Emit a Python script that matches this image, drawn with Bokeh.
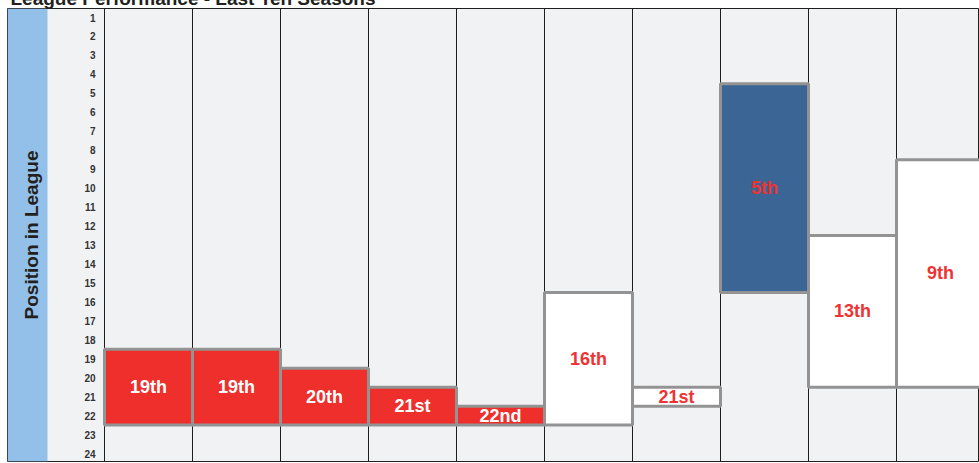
from bokeh.plotting import figure
from bokeh.models import Range1d, FixedTicker, BoxAnnotation, ColumnDataSource
from bokeh.core.properties import value
from bokeh.embed import file_html
from bokeh.resources import INLINE

# ---- data ----
title_text = "League Performance - Last Ten Seasons"
y_label = "Position in League"
seasons = list(range(10))                                  # season index, left to right
positions = [19, 19, 20, 21, 22, 16, 21, 5, 13, 9]          # final league position
bar_from = [22.5, 22.5, 22.5, 22.5, 22.5, 22.5, 21.5, 15.5, 20.5, 20.5]  # other end of each bar
league_ticks = list(range(1, 25))

# ---- styles ----
RED = "#EE2F2B"
BLUE = "#3A6594"
WHITE = "#FFFFFF"
fill_colors = [RED, RED, RED, RED, RED, WHITE, WHITE, BLUE, WHITE, WHITE]
text_colors = [WHITE if c == RED else "#EE3333" for c in fill_colors]


def ordinal(n):
    if 10 <= n % 100 <= 20:
        suf = "th"
    else:
        suf = {1: "st", 2: "nd", 3: "rd"}.get(n % 10, "th")
    return f"{n}{suf}"


labels = [ordinal(v) for v in positions]
tops = [v - 0.5 for v in positions]
mids = [(t + b) / 2 for t, b in zip(tops, bar_from)]

src = ColumnDataSource(dict(
    x=seasons,
    left=[s - 0.5 for s in seasons],
    right=[s + 0.5 for s in seasons],
    top=tops,
    bottom=bar_from,
    mid=mids,
    label=labels,
    fill=fill_colors,
    tcol=text_colors,
))

# ---- layout geometry (pixels) ----
W, H = 972, 484
TOP_BORDER = 30
frame_left_px = 7
data_left_px = 104
unit_px = 88
x_start = -0.5 - (data_left_px - frame_left_px) / unit_px
x_end = x_start + W / unit_px
band_right = x_start + (47 - frame_left_px) / unit_px

p = figure(width=W, height=H, output_backend="svg", toolbar_location=None,
           x_range=Range1d(x_start, x_end), y_range=Range1d(24.42, 0.525),
           min_border_left=0, min_border_right=0, min_border_top=TOP_BORDER,
           min_border_bottom=1)
p.margin = (8 - TOP_BORDER, 0, 0, frame_left_px)

p.title.text = title_text
p.title.text_font = "Liberation Sans"
p.title.text_font_size = "19px"
p.title.text_font_style = "bold"
p.title.text_color = "#231F20"
p.title.align = "left"
p.title.standoff = 0
p.title.offset = 3

p.background_fill_color = "#F1F2F4"
p.border_fill_color = "#FFFFFF"
p.outline_line_color = "#1E1E1E"
p.outline_line_width = 1

# blue side band
p.add_layout(BoxAnnotation(right=band_right, fill_color="#93C0E8", fill_alpha=1,
                           line_color=None, level="underlay"))

# vertical grid lines at season boundaries
p.xgrid.ticker = FixedTicker(ticks=[s - 0.5 for s in seasons] + [seasons[-1] + 0.5])
p.xgrid.grid_line_color = "#1E1E1E"
p.xgrid.grid_line_width = 1
p.ygrid.grid_line_color = None

p.xaxis.visible = False

ya = p.yaxis[0]
ya.fixed_location = -0.5
ya.ticker = FixedTicker(ticks=league_ticks)
ya.axis_line_color = None
ya.major_tick_line_color = None
ya.minor_tick_line_color = None
ya.major_label_standoff = 3
ya.major_label_text_font = "Liberation Sans"
ya.major_label_text_font_size = "10px"
ya.major_label_text_font_style = "bold"
ya.major_label_text_color = "#333333"
ya.axis_label = y_label
ya.axis_label_text_font = "Liberation Sans"
ya.axis_label_text_font_size = "19px"
ya.axis_label_text_font_style = "bold"
ya.axis_label_text_color = "#231F20"
ya.axis_label_standoff = 39

p.quad(left="left", right="right", top="top", bottom="bottom", source=src,
       fill_color="fill", line_color="#939393", line_width=3)
p.text(x="x", y="mid", text="label", source=src, text_align="center",
       text_baseline="middle", text_font=value("Liberation Sans"),
       text_font_style="bold", text_font_size="18px", text_color="tcol")

open("out.html", "w").write(file_html(p, INLINE))
